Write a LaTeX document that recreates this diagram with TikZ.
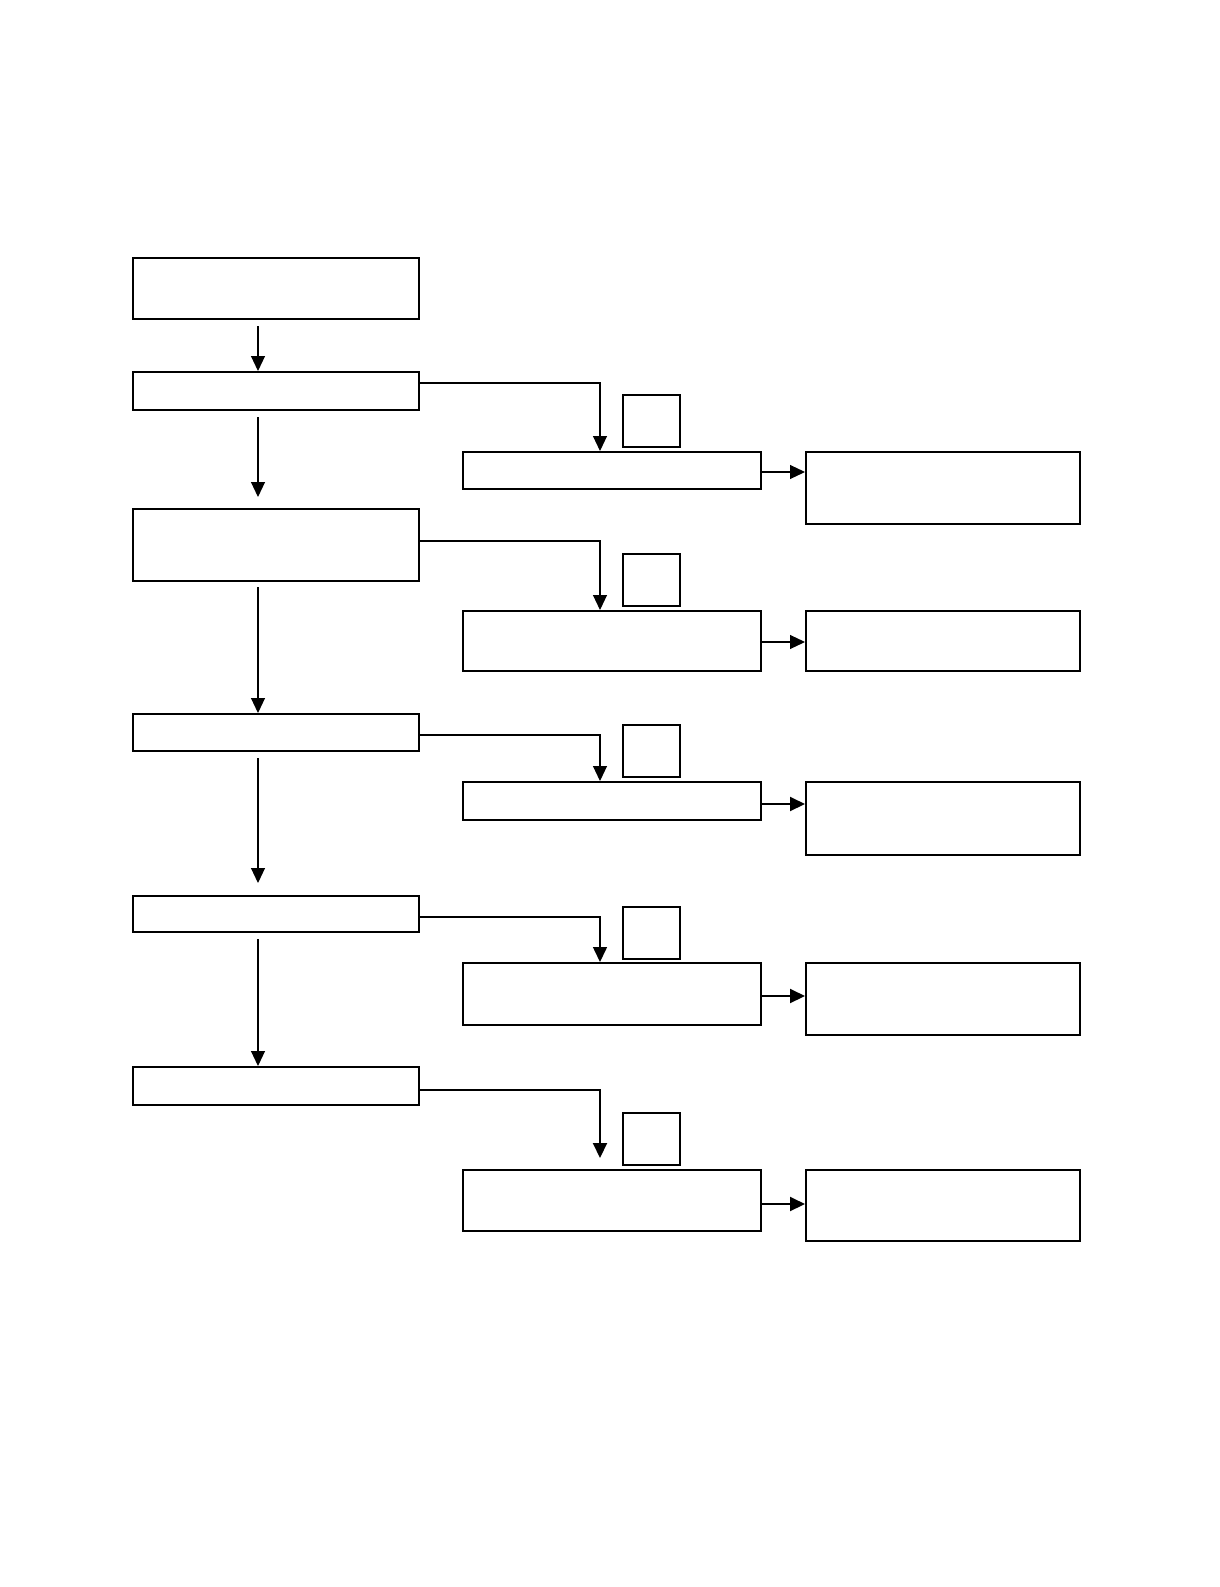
\documentclass[tikz,border=0pt]{standalone}
\usetikzlibrary{arrows.meta}
\tikzset{
  box/.style={draw, anchor=north west, inner sep=0pt, line width=1.5pt},
  lbox/.style={box, minimum width=286, line width=2pt},
  mbox/.style={box, minimum width=298},
  rbox/.style={box, minimum width=274},
  tag/.style={box, minimum width=57, minimum height=52},
  arr/.style={-{Triangle[length=15pt,width=14pt]}, line width=1.1pt},
  warr/.style={arr, line width=2pt}
}
\begin{document}
\begin{tikzpicture}[x=1pt,y=-1pt]
        \useasboundingbox (0,0) rectangle (1219,1587);
        % left column
        \node[lbox, minimum height=61] (l1) at (132,257) {};
        \node[lbox, minimum height=38] (l2) at (132,371) {};
        \node[lbox, minimum height=72] (l3) at (132,508) {};
        \node[lbox, minimum height=37] (l4) at (132,713) {};
        \node[lbox, minimum height=36] (l5) at (132,895) {};
        \node[lbox, minimum height=38] (l6) at (132,1066) {};
        % middle column
        \node[mbox, minimum height=37] (m1) at (462,451) {};
        \node[mbox, minimum height=60] (m2) at (462,610) {};
        \node[mbox, minimum height=38] (m3) at (462,781) {};
        \node[mbox, minimum height=62] (m4) at (462,962) {};
        \node[mbox, minimum height=61] (m5) at (462,1169) {};
        % right column
        \node[rbox, minimum height=72] (r1) at (805,451) {};
        \node[rbox, minimum height=60] (r2) at (805,610) {};
        \node[rbox, minimum height=73] (r3) at (805,781) {};
        \node[rbox, minimum height=72] (r4) at (805,962) {};
        \node[rbox, minimum height=71] (r5) at (805,1169) {};
        % small squares
        \node[tag] (s1) at (622,394) {};
        \node[tag] (s2) at (622,553) {};
        \node[tag] (s3) at (622,724) {};
        \node[tag] (s4) at (622,906) {};
        \node[tag] (s5) at (622,1112) {};
        % free ends
        \coordinate (a1) at (258,326);
        \coordinate (a2) at (258,417);
        \coordinate (b2) at (258,497);
        \coordinate (a3) at (258,587);
        \coordinate (a4) at (258,758);
        \coordinate (b4) at (258,883);
        \coordinate (a5) at (258,939);
        \coordinate (t5) at (600,1158);
        % down the left
        \draw[arr] (a1) -- (a1 |- l2.north);
        \draw[arr] (a2) -- (b2);
        \draw[arr] (a3) -- (a3 |- l4.north);
        \draw[arr] (a4) -- (b4);
        \draw[arr] (a5) -- (a5 |- l6.north);
        % left to middle
        \draw[arr] (l2.east |- 0,383) -| (600,0 |- m1.north);
        \draw[arr] (l3.east |- 0,541) -| (600,0 |- m2.north);
        \draw[arr] (l4.east |- 0,735) -| (600,0 |- m3.north);
        \draw[arr, line width=1.5pt] (l5.east |- 0,917) -| (600,0 |- m4.north);
        \draw[warr] (l6.east |- 0,1090) -| (t5);
        % middle to right
        \draw[arr] (m1.east |- 0,472) -- (r1.west |- 0,472);
        \draw[arr] (m2.east |- 0,642) -- (r2.west |- 0,642);
        \draw[warr] (m3.east |- 0,804) -- (r3.west |- 0,804);
        \draw[warr] (m4.east |- 0,996) -- (r4.west |- 0,996);
        \draw[warr] (m5.east |- 0,1204) -- (r5.west |- 0,1204);
\end{tikzpicture}
\end{document}
